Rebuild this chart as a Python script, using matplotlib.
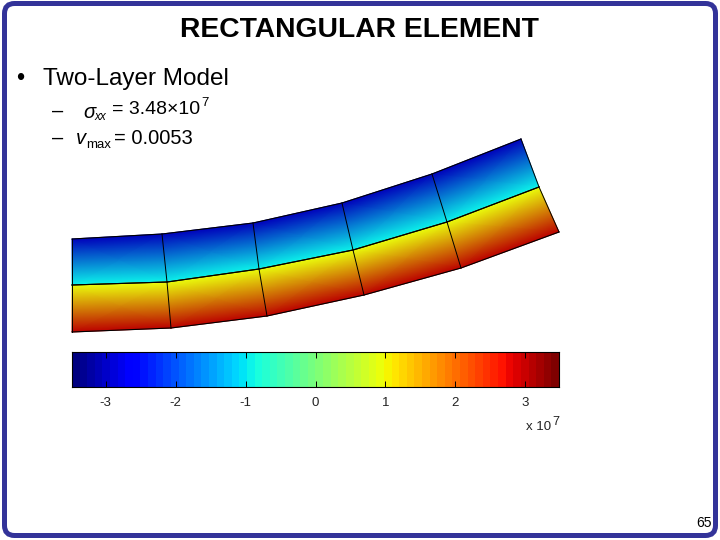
import numpy as np
import matplotlib
matplotlib.use("Agg")
import matplotlib.pyplot as plt
from matplotlib.patches import FancyBboxPatch

plt.rcParams["font.family"] = ["Liberation Sans", "DejaVu Sans"]

# mesh nodes, in slide pixels
top_x = [72, 162, 253, 342, 432, 521]
top_y = [239, 234, 223, 203, 174, 139]
mid_x = [72, 167, 259, 353, 447, 539]
mid_y = [285, 282, 269, 250, 222, 187]
bot_x = [72, 171, 267, 364, 461, 559]
bot_y = [332, 328, 316, 295, 268, 232]

# stress through each layer (x 1e7)
upper_stress = [-3.1, -0.95]
lower_stress = [0.95, 3.1]
stress_lim = 3.48
cbar_ticks = [-3, -2, -1, 0, 1, 2, 3]

NAVY = "#333399"
cmap = plt.get_cmap("jet", 64)

fig = plt.figure(figsize=(7.2, 5.4), dpi=100)
ax = fig.add_axes([0, 0, 1, 1])
ax.set_xlim(0, 720)
ax.set_ylim(540, 0)
ax.axis("off")

ax.add_patch(FancyBboxPatch((4.5, 3.5), 711, 532, boxstyle="round,pad=0,rounding_size=10",
                            fc="white", ec=NAVY, lw=3.6))


def draw_layer(xa, ya, xb, yb, stress):
    X = np.array([xa, xb], dtype=float)
    Y = np.array([ya, yb], dtype=float)
    C = np.array([[stress[0]] * len(xa), [stress[1]] * len(xa)])
    ax.pcolormesh(X, Y, C, shading="gouraud", cmap="jet", vmin=-stress_lim, vmax=stress_lim)
    # element edges
    ax.plot(xa, ya, color="black", lw=0.8)
    ax.plot(xb, yb, color="black", lw=0.8)
    for i in range(len(xa)):
        ax.plot([xa[i], xb[i]], [ya[i], yb[i]], color="black", lw=0.7)


draw_layer(top_x, top_y, mid_x, mid_y, upper_stress)
draw_layer(mid_x, mid_y, bot_x, bot_y, lower_stress)
ax.set_xlim(0, 720)
ax.set_ylim(540, 0)

# text
ax.text(359.5, 30, "RECTANGULAR ELEMENT", fontsize=20.3, fontweight="bold", ha="center", va="center")
ax.text(16, 79, "•", fontsize=17, ha="left", va="center")
ax.text(43, 79, "Two-Layer Model", fontsize=17.5, ha="left", va="center")
ax.text(52, 111, "–", fontsize=14.5, ha="left", va="center")
ax.text(83, 112, "σ", fontsize=14.5, style="italic", ha="left", va="center")
ax.text(94.5, 117, "xx", fontsize=8.5, style="italic", ha="left", va="center")
ax.text(112, 109, "= 3.48×10", fontsize=14, ha="left", va="center")
ax.text(201, 103, "7", fontsize=9.5, ha="left", va="center")
ax.text(52, 138, "–", fontsize=14.5, ha="left", va="center")
ax.text(76, 138, "v", fontsize=14.5, style="italic", ha="left", va="center")
ax.text(86, 145, "max", fontsize=9.5, ha="left", va="center")
ax.text(114, 138, "= 0.0053", fontsize=14.5, ha="left", va="center")
ax.text(712, 523, "65", fontsize=10, ha="right", va="center")

# colorbar
cax = fig.add_axes([72 / 720, 1 - 387 / 540, 487 / 720, 35 / 540])
gradient = np.linspace(-stress_lim, stress_lim, 64)[None, :]
cax.imshow(gradient, aspect="auto", cmap=cmap, vmin=-stress_lim, vmax=stress_lim,
           extent=[-stress_lim, stress_lim, 0, 1], interpolation="nearest")
cax.set_yticks([])
cax.set_xticks(cbar_ticks)
cax.tick_params(axis="x", direction="in", length=4, width=0.7, top=True, labelsize=9.5,
                pad=7, labelcolor="#222222")
cax.set_xticklabels([str(t) for t in cbar_ticks])
for s in cax.spines.values():
    s.set_linewidth(0.8)

ax.text(526, 427, "x 10", fontsize=9.5, ha="left", va="center", color="#222222")
ax.text(552, 422, "7", fontsize=9, ha="left", va="center", color="#222222")

fig.savefig("out.png", dpi=100)
